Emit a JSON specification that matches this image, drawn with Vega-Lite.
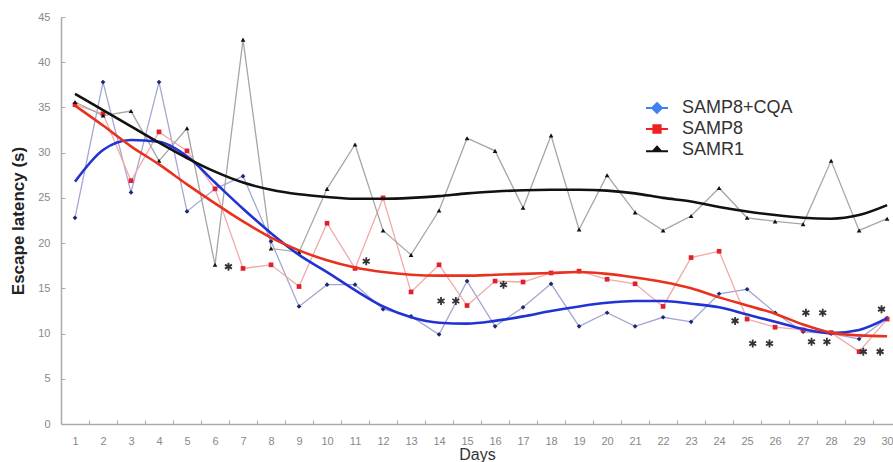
{
  "$schema": "https://vega.github.io/schema/vega-lite/v6.json",
  "width": 832,
  "height": 407,
  "autosize": "none",
  "padding": {"left": 61, "top": 17, "right": 0, "bottom": 38},
  "background": "white",
  "config": {"font": "Liberation Sans", "view": {"stroke": null}},
  "datasets": {
    "obs": [
      {"day": 1, "group": "SAMP8+CQA", "latency": 22.8}, {"day": 2, "group": "SAMP8+CQA", "latency": 37.8}, {"day": 3, "group": "SAMP8+CQA", "latency": 25.6}, {"day": 4, "group": "SAMP8+CQA", "latency": 37.8}, {"day": 5, "group": "SAMP8+CQA", "latency": 23.5}, {"day": 6, "group": "SAMP8+CQA", "latency": 26.0}, {"day": 7, "group": "SAMP8+CQA", "latency": 27.4}, {"day": 8, "group": "SAMP8+CQA", "latency": 20.2}, {"day": 9, "group": "SAMP8+CQA", "latency": 13.0}, {"day": 10, "group": "SAMP8+CQA", "latency": 15.4},
      {"day": 11, "group": "SAMP8+CQA", "latency": 15.4}, {"day": 12, "group": "SAMP8+CQA", "latency": 12.7}, {"day": 13, "group": "SAMP8+CQA", "latency": 11.9}, {"day": 14, "group": "SAMP8+CQA", "latency": 9.9}, {"day": 15, "group": "SAMP8+CQA", "latency": 15.8}, {"day": 16, "group": "SAMP8+CQA", "latency": 10.8}, {"day": 17, "group": "SAMP8+CQA", "latency": 12.9}, {"day": 18, "group": "SAMP8+CQA", "latency": 15.5}, {"day": 19, "group": "SAMP8+CQA", "latency": 10.8}, {"day": 20, "group": "SAMP8+CQA", "latency": 12.3},
      {"day": 21, "group": "SAMP8+CQA", "latency": 10.8}, {"day": 22, "group": "SAMP8+CQA", "latency": 11.8}, {"day": 23, "group": "SAMP8+CQA", "latency": 11.3}, {"day": 24, "group": "SAMP8+CQA", "latency": 14.4}, {"day": 25, "group": "SAMP8+CQA", "latency": 14.9}, {"day": 26, "group": "SAMP8+CQA", "latency": 12.3}, {"day": 27, "group": "SAMP8+CQA", "latency": 10.2}, {"day": 28, "group": "SAMP8+CQA", "latency": 10.0}, {"day": 29, "group": "SAMP8+CQA", "latency": 9.4}, {"day": 30, "group": "SAMP8+CQA", "latency": 11.7},
      {"day": 1, "group": "SAMP8", "latency": 35.3}, {"day": 2, "group": "SAMP8", "latency": 34.3}, {"day": 3, "group": "SAMP8", "latency": 26.9}, {"day": 4, "group": "SAMP8", "latency": 32.3}, {"day": 5, "group": "SAMP8", "latency": 30.2}, {"day": 6, "group": "SAMP8", "latency": 26.0}, {"day": 7, "group": "SAMP8", "latency": 17.2}, {"day": 8, "group": "SAMP8", "latency": 17.6}, {"day": 9, "group": "SAMP8", "latency": 15.2}, {"day": 10, "group": "SAMP8", "latency": 22.2},
      {"day": 11, "group": "SAMP8", "latency": 17.2}, {"day": 12, "group": "SAMP8", "latency": 25.0}, {"day": 13, "group": "SAMP8", "latency": 14.6}, {"day": 14, "group": "SAMP8", "latency": 17.6}, {"day": 15, "group": "SAMP8", "latency": 13.1}, {"day": 16, "group": "SAMP8", "latency": 15.8}, {"day": 17, "group": "SAMP8", "latency": 15.7}, {"day": 18, "group": "SAMP8", "latency": 16.7}, {"day": 19, "group": "SAMP8", "latency": 16.9}, {"day": 20, "group": "SAMP8", "latency": 16.0},
      {"day": 21, "group": "SAMP8", "latency": 15.5}, {"day": 22, "group": "SAMP8", "latency": 13.0}, {"day": 23, "group": "SAMP8", "latency": 18.4}, {"day": 24, "group": "SAMP8", "latency": 19.1}, {"day": 25, "group": "SAMP8", "latency": 11.6}, {"day": 26, "group": "SAMP8", "latency": 10.7}, {"day": 27, "group": "SAMP8", "latency": 10.4}, {"day": 28, "group": "SAMP8", "latency": 10.1}, {"day": 29, "group": "SAMP8", "latency": 8.0}, {"day": 30, "group": "SAMP8", "latency": 11.6},
      {"day": 1, "group": "SAMR1", "latency": 35.6}, {"day": 2, "group": "SAMR1", "latency": 34.1}, {"day": 3, "group": "SAMR1", "latency": 34.6}, {"day": 4, "group": "SAMR1", "latency": 29.1}, {"day": 5, "group": "SAMR1", "latency": 32.7}, {"day": 6, "group": "SAMR1", "latency": 17.6}, {"day": 7, "group": "SAMR1", "latency": 42.5}, {"day": 8, "group": "SAMR1", "latency": 19.4}, {"day": 9, "group": "SAMR1", "latency": 19.0}, {"day": 10, "group": "SAMR1", "latency": 26.0},
      {"day": 11, "group": "SAMR1", "latency": 30.9}, {"day": 12, "group": "SAMR1", "latency": 21.4}, {"day": 13, "group": "SAMR1", "latency": 18.7}, {"day": 14, "group": "SAMR1", "latency": 23.6}, {"day": 15, "group": "SAMR1", "latency": 31.6}, {"day": 16, "group": "SAMR1", "latency": 30.2}, {"day": 17, "group": "SAMR1", "latency": 23.9}, {"day": 18, "group": "SAMR1", "latency": 31.9}, {"day": 19, "group": "SAMR1", "latency": 21.5}, {"day": 20, "group": "SAMR1", "latency": 27.5},
      {"day": 21, "group": "SAMR1", "latency": 23.4}, {"day": 22, "group": "SAMR1", "latency": 21.4}, {"day": 23, "group": "SAMR1", "latency": 23.0}, {"day": 24, "group": "SAMR1", "latency": 26.1}, {"day": 25, "group": "SAMR1", "latency": 22.8}, {"day": 26, "group": "SAMR1", "latency": 22.4}, {"day": 27, "group": "SAMR1", "latency": 22.1}, {"day": 28, "group": "SAMR1", "latency": 29.1}, {"day": 29, "group": "SAMR1", "latency": 21.4}, {"day": 30, "group": "SAMR1", "latency": 22.7}
    ],
    "fit": [
      {"day": 1, "group": "SAMP8+CQA", "trend": 26.8}, {"day": 2, "group": "SAMP8+CQA", "trend": 30.3}, {"day": 3, "group": "SAMP8+CQA", "trend": 31.4}, {"day": 4, "group": "SAMP8+CQA", "trend": 31.2}, {"day": 5, "group": "SAMP8+CQA", "trend": 29.6}, {"day": 6, "group": "SAMP8+CQA", "trend": 26.7}, {"day": 7, "group": "SAMP8+CQA", "trend": 23.8}, {"day": 8, "group": "SAMP8+CQA", "trend": 21.1}, {"day": 9, "group": "SAMP8+CQA", "trend": 18.7}, {"day": 10, "group": "SAMP8+CQA", "trend": 16.8},
      {"day": 11, "group": "SAMP8+CQA", "trend": 14.8}, {"day": 12, "group": "SAMP8+CQA", "trend": 13.0}, {"day": 13, "group": "SAMP8+CQA", "trend": 11.8}, {"day": 14, "group": "SAMP8+CQA", "trend": 11.2}, {"day": 15, "group": "SAMP8+CQA", "trend": 11.1}, {"day": 16, "group": "SAMP8+CQA", "trend": 11.4}, {"day": 17, "group": "SAMP8+CQA", "trend": 11.9}, {"day": 18, "group": "SAMP8+CQA", "trend": 12.5}, {"day": 19, "group": "SAMP8+CQA", "trend": 13.0}, {"day": 20, "group": "SAMP8+CQA", "trend": 13.4},
      {"day": 21, "group": "SAMP8+CQA", "trend": 13.6}, {"day": 22, "group": "SAMP8+CQA", "trend": 13.6}, {"day": 23, "group": "SAMP8+CQA", "trend": 13.3}, {"day": 24, "group": "SAMP8+CQA", "trend": 12.9}, {"day": 25, "group": "SAMP8+CQA", "trend": 12.1}, {"day": 26, "group": "SAMP8+CQA", "trend": 11.3}, {"day": 27, "group": "SAMP8+CQA", "trend": 10.5}, {"day": 28, "group": "SAMP8+CQA", "trend": 10.05}, {"day": 29, "group": "SAMP8+CQA", "trend": 10.4}, {"day": 30, "group": "SAMP8+CQA", "trend": 11.7},
      {"day": 1, "group": "SAMP8", "trend": 35.2}, {"day": 2, "group": "SAMP8", "trend": 33.0}, {"day": 3, "group": "SAMP8", "trend": 30.7}, {"day": 4, "group": "SAMP8", "trend": 28.7}, {"day": 5, "group": "SAMP8", "trend": 26.5}, {"day": 6, "group": "SAMP8", "trend": 24.4}, {"day": 7, "group": "SAMP8", "trend": 22.4}, {"day": 8, "group": "SAMP8", "trend": 20.6}, {"day": 9, "group": "SAMP8", "trend": 19.2}, {"day": 10, "group": "SAMP8", "trend": 18.1},
      {"day": 11, "group": "SAMP8", "trend": 17.3}, {"day": 12, "group": "SAMP8", "trend": 16.8}, {"day": 13, "group": "SAMP8", "trend": 16.5}, {"day": 14, "group": "SAMP8", "trend": 16.4}, {"day": 15, "group": "SAMP8", "trend": 16.4}, {"day": 16, "group": "SAMP8", "trend": 16.5}, {"day": 17, "group": "SAMP8", "trend": 16.6}, {"day": 18, "group": "SAMP8", "trend": 16.7}, {"day": 19, "group": "SAMP8", "trend": 16.8}, {"day": 20, "group": "SAMP8", "trend": 16.6},
      {"day": 21, "group": "SAMP8", "trend": 16.2}, {"day": 22, "group": "SAMP8", "trend": 15.7}, {"day": 23, "group": "SAMP8", "trend": 15.0}, {"day": 24, "group": "SAMP8", "trend": 14.0}, {"day": 25, "group": "SAMP8", "trend": 13.1}, {"day": 26, "group": "SAMP8", "trend": 12.2}, {"day": 27, "group": "SAMP8", "trend": 11.0}, {"day": 28, "group": "SAMP8", "trend": 10.1}, {"day": 29, "group": "SAMP8", "trend": 9.8}, {"day": 30, "group": "SAMP8", "trend": 9.7},
      {"day": 1, "group": "SAMR1", "trend": 36.5}, {"day": 2, "group": "SAMR1", "trend": 34.7}, {"day": 3, "group": "SAMR1", "trend": 32.9}, {"day": 4, "group": "SAMR1", "trend": 31.1}, {"day": 5, "group": "SAMR1", "trend": 29.4}, {"day": 6, "group": "SAMR1", "trend": 27.9}, {"day": 7, "group": "SAMR1", "trend": 26.7}, {"day": 8, "group": "SAMR1", "trend": 25.9}, {"day": 9, "group": "SAMR1", "trend": 25.4}, {"day": 10, "group": "SAMR1", "trend": 25.1},
      {"day": 11, "group": "SAMR1", "trend": 24.9}, {"day": 12, "group": "SAMR1", "trend": 24.9}, {"day": 13, "group": "SAMR1", "trend": 25.0}, {"day": 14, "group": "SAMR1", "trend": 25.2}, {"day": 15, "group": "SAMR1", "trend": 25.5}, {"day": 16, "group": "SAMR1", "trend": 25.7}, {"day": 17, "group": "SAMR1", "trend": 25.85}, {"day": 18, "group": "SAMR1", "trend": 25.9}, {"day": 19, "group": "SAMR1", "trend": 25.9}, {"day": 20, "group": "SAMR1", "trend": 25.8},
      {"day": 21, "group": "SAMR1", "trend": 25.5}, {"day": 22, "group": "SAMR1", "trend": 25.0}, {"day": 23, "group": "SAMR1", "trend": 24.6}, {"day": 24, "group": "SAMR1", "trend": 24.0}, {"day": 25, "group": "SAMR1", "trend": 23.5}, {"day": 26, "group": "SAMR1", "trend": 23.1}, {"day": 27, "group": "SAMR1", "trend": 22.8}, {"day": 28, "group": "SAMR1", "trend": 22.7}, {"day": 29, "group": "SAMR1", "trend": 23.1}, {"day": 30, "group": "SAMR1", "trend": 24.2}
    ],
    "stars": [
      {"day": 6.48, "latency": 17.4}, {"day": 11.4, "latency": 18.0}, {"day": 14.07, "latency": 13.6}, {"day": 14.6, "latency": 13.6}, {"day": 16.3, "latency": 15.4},
      {"day": 24.57, "latency": 11.4}, {"day": 25.2, "latency": 8.9}, {"day": 25.8, "latency": 8.9}, {"day": 27.1, "latency": 12.3}, {"day": 27.7, "latency": 12.3},
      {"day": 27.3, "latency": 9.1}, {"day": 27.85, "latency": 9.1}, {"day": 29.15, "latency": 8.0}, {"day": 29.75, "latency": 8.0}, {"day": 29.8, "latency": 12.7}
    ]
  },
  "encoding": {
    "x": {
      "field": "day", "type": "quantitative",
      "scale": {"domain": [0.5, 30.21], "nice": false, "zero": false},
      "axis": {
        "values": [1,2,3,4,5,6,7,8,9,10,11,12,13,14,15,16,17,18,19,20,21,22,23,24,25,26,27,28,29,30],
        "grid": false, "domainColor": "#aaaaaa", "domainWidth": 1.5,
        "tickColor": "#aaaaaa", "tickSize": -4, "tickOffset": 14, "labelOffset": -14,
        "labelColor": "#888888", "labelFontSize": 11, "labelPadding": 15, "labelFlush": false,
        "title": "Days", "titleFontSize": 16, "titleFontWeight": "normal", "titleColor": "#333333", "titlePadding": 0
      }
    },
    "y": {
      "field": "latency", "type": "quantitative",
      "scale": {"domain": [0, 45], "nice": false},
      "axis": {
        "values": [0,5,10,15,20,25,30,35,40,45],
        "grid": false, "domainColor": "#aaaaaa", "domainWidth": 1.5,
        "tickColor": "#aaaaaa", "tickSize": -4,
        "labelColor": "#888888", "labelFontSize": 11, "labelPadding": 15,
        "title": "Escape latency (s)", "titleFontSize": 17, "titleFontWeight": "bold", "titleColor": "#222222", "titlePadding": 10
      }
    }
  },
  "layer": [
    {
      "data": {"name": "obs"},
      "mark": {"type": "line", "strokeWidth": 1.3},
      "encoding": {
        "detail": {"field": "group"},
        "color": {"field": "group", "type": "nominal", "legend": null,
          "scale": {"domain": ["SAMP8+CQA", "SAMP8", "SAMR1"], "range": ["#a3a7d4", "#f2a9a9", "#a6a6a6"]}}
      }
    },
    {
      "data": {"name": "obs"},
      "mark": {"type": "point", "filled": true, "size": 22, "opacity": 1},
      "encoding": {
        "shape": {"field": "group", "type": "nominal", "legend": null,
          "scale": {"domain": ["SAMP8+CQA", "SAMP8", "SAMR1"], "range": ["diamond", "square", "triangle-up"]}},
        "color": {"field": "group", "type": "nominal", "legend": null,
          "scale": {"domain": ["SAMP8+CQA", "SAMP8", "SAMR1"], "range": ["#1c2870", "#e0202c", "#111111"]}}
      }
    },
    {
      "data": {"name": "fit"},
      "mark": {"type": "line", "strokeWidth": 2.6, "interpolate": "monotone"},
      "encoding": {
        "y": {"field": "trend", "type": "quantitative"},
        "detail": {"field": "group"},
        "color": {"field": "group", "type": "nominal", "legend": null,
          "scale": {"domain": ["SAMP8+CQA", "SAMP8", "SAMR1"], "range": ["#2233d4", "#e8321e", "#111111"]}}
      }
    },
    {
      "data": {"name": "stars"},
      "mark": {"type": "point", "filled": false, "shape": "M0,-1L0,1M-0.87,-0.5L0.87,0.5M-0.87,0.5L0.87,-0.5", "size": 64, "stroke": "#333333", "strokeWidth": 1.8, "opacity": 1}
    },
    {
      "data": {"name": "obs"},
      "transform": [{"filter": "datum.day > 100"}],
      "mark": {"type": "point", "filled": true, "opacity": 1, "strokeWidth": 2},
      "encoding": {
        "shape": {"field": "group", "type": "nominal",
          "scale": {"domain": ["SAMP8+CQA", "SAMP8", "SAMR1"], "range": ["M-1,0L1,0M0,-0.45L0.45,0L0,0.45L-0.45,0Z", "M-1,0L1,0M-0.33,-0.33L0.33,-0.33L0.33,0.33L-0.33,0.33Z", "M-1,0.12L1,0.12M0,-0.3L0.38,0.12L-0.38,0.12Z"]},
          "legend": {"orient": "none", "legendX": 584, "legendY": 79, "title": null, "labelFontSize": 18, "labelColor": "#333333", "labelOffset": 13, "symbolSize": 484, "symbolStrokeWidth": 2, "rowPadding": -1}},
        "fill": {"field": "group", "type": "nominal",
          "scale": {"domain": ["SAMP8+CQA", "SAMP8", "SAMR1"], "range": ["#3f82f0", "#ee2222", "#111111"]},
          "legend": {"orient": "none", "legendX": 584, "legendY": 79, "title": null, "labelFontSize": 18, "labelColor": "#333333", "labelOffset": 13, "symbolSize": 484, "symbolStrokeWidth": 2, "rowPadding": -1}},
        "stroke": {"field": "group", "type": "nominal",
          "scale": {"domain": ["SAMP8+CQA", "SAMP8", "SAMR1"], "range": ["#3f82f0", "#ee2222", "#111111"]},
          "legend": {"orient": "none", "legendX": 584, "legendY": 79, "title": null, "labelFontSize": 18, "labelColor": "#333333", "labelOffset": 13, "symbolSize": 484, "symbolStrokeWidth": 2, "rowPadding": -1}}
      }
    },
    {
      "mark": {"type": "rule", "color": "#bbbbbb", "strokeWidth": 1.5},
      "encoding": {"y": {"datum": 45}, "x": {"value": 0}, "x2": {"value": 832}}
    }
  ],
  "resolve": {"scale": {"color": "independent", "shape": "independent", "fill": "independent", "stroke": "independent"}}
}
